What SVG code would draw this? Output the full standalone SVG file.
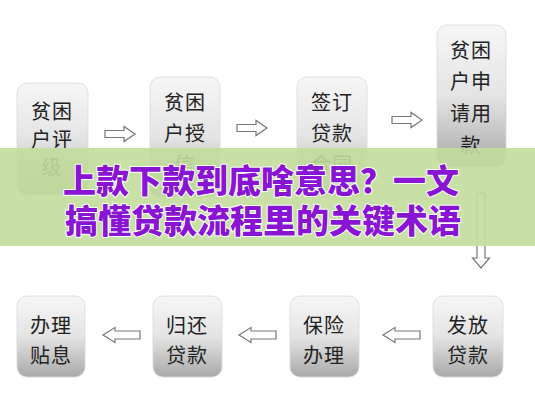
<svg xmlns="http://www.w3.org/2000/svg" width="535" height="400" viewBox="0 0 535 400">
<defs>
<linearGradient id="boxg" x1="0" y1="0" x2="0" y2="1">
<stop offset="0" stop-color="#f6f6f6"/>
<stop offset="0.5" stop-color="#e4e4e4"/>
<stop offset="1" stop-color="#a9a9a9"/>
</linearGradient>
<path id="arR" d="M0,-3.5 H19 V-7.5 L30,0 L19,7.5 V3.5 H0 Z"/>
<path id="arL" d="M0,0 L12,-7.5 V-4 H37 V4 H12 V7.5 Z"/>
</defs>
<style>
.box{fill:url(#boxg);stroke:#d8d8d8;stroke-width:0.8}
.t{font-family:"Noto Sans CJK SC","Noto Sans",sans-serif;font-size:20px;fill:#222;text-anchor:middle;letter-spacing:1px}
.arrow{fill:#fff;stroke:#777;stroke-width:1.2}
.ban{font-family:"Noto Sans CJK SC","Noto Sans",sans-serif;font-size:33px;font-weight:900;fill:#8a14d4;stroke:#fff;stroke-width:2;paint-order:stroke;stroke-linejoin:round}
</style>
<rect width="535" height="400" fill="#fff"/>
<g id="n1"><rect class="box" x="17" y="83" width="71" height="112" rx="10"/>
<text class="t" x="52" y="119">贫困</text><text class="t" x="52" y="147">户评</text><text class="t" x="52" y="175">级</text></g>
<g id="n2"><rect class="box" x="150" y="77" width="70" height="120" rx="10"/>
<text class="t" x="185" y="110">贫困</text><text class="t" x="185" y="141">户授</text><text class="t" x="185" y="172">信</text></g>
<g id="n3"><rect class="box" x="297" y="77" width="70" height="120" rx="10"/>
<text class="t" x="332" y="110">签订</text><text class="t" x="332" y="141">贷款</text><text class="t" x="332" y="172">合同</text></g>
<g id="n4"><rect class="box" x="437" y="25" width="69" height="142" rx="10"/>
<text class="t" x="471" y="58">贫困</text><text class="t" x="471" y="89">户申</text><text class="t" x="471" y="121">请用</text><text class="t" x="471" y="153">款</text></g>
<g id="n5"><rect class="box" x="433" y="296" width="70" height="81" rx="10"/>
<text class="t" x="468" y="333">发放</text><text class="t" x="468" y="363">贷款</text></g>
<g id="n6"><rect class="box" x="290" y="296" width="69" height="81" rx="10"/>
<text class="t" x="324" y="333">保险</text><text class="t" x="324" y="363">办理</text></g>
<g id="n7"><rect class="box" x="153" y="296" width="69" height="81" rx="10"/>
<text class="t" x="187" y="333">归还</text><text class="t" x="187" y="363">贷款</text></g>
<g id="n8"><rect class="box" x="17" y="296" width="68" height="81" rx="10"/>
<text class="t" x="51" y="333">办理</text><text class="t" x="51" y="363">贴息</text></g>
<g id="connectors">
<use href="#arR" class="arrow" transform="translate(105,134)"/>
<use href="#arR" class="arrow" transform="translate(237,128)"/>
<use href="#arR" class="arrow" transform="translate(392,120)"/>
<path class="arrow" d="M477,193 H485 V258 H489.5 L481,268 L472.5,258 H477 Z"/>
<use href="#arL" class="arrow" transform="translate(103,335)"/>
<use href="#arL" class="arrow" transform="translate(239,335)"/>
<use href="#arL" class="arrow" transform="translate(383,335)"/>
</g>
<g id="banner">
<rect x="0" y="148" width="535" height="98" fill="#c2dc9c" opacity="0.9"/>
<text class="ban" x="63" y="193">上款下款到底啥意思？一文</text>
<text class="ban" x="65" y="233">搞懂贷款流程里的关键术语</text>
</g>
</svg>
